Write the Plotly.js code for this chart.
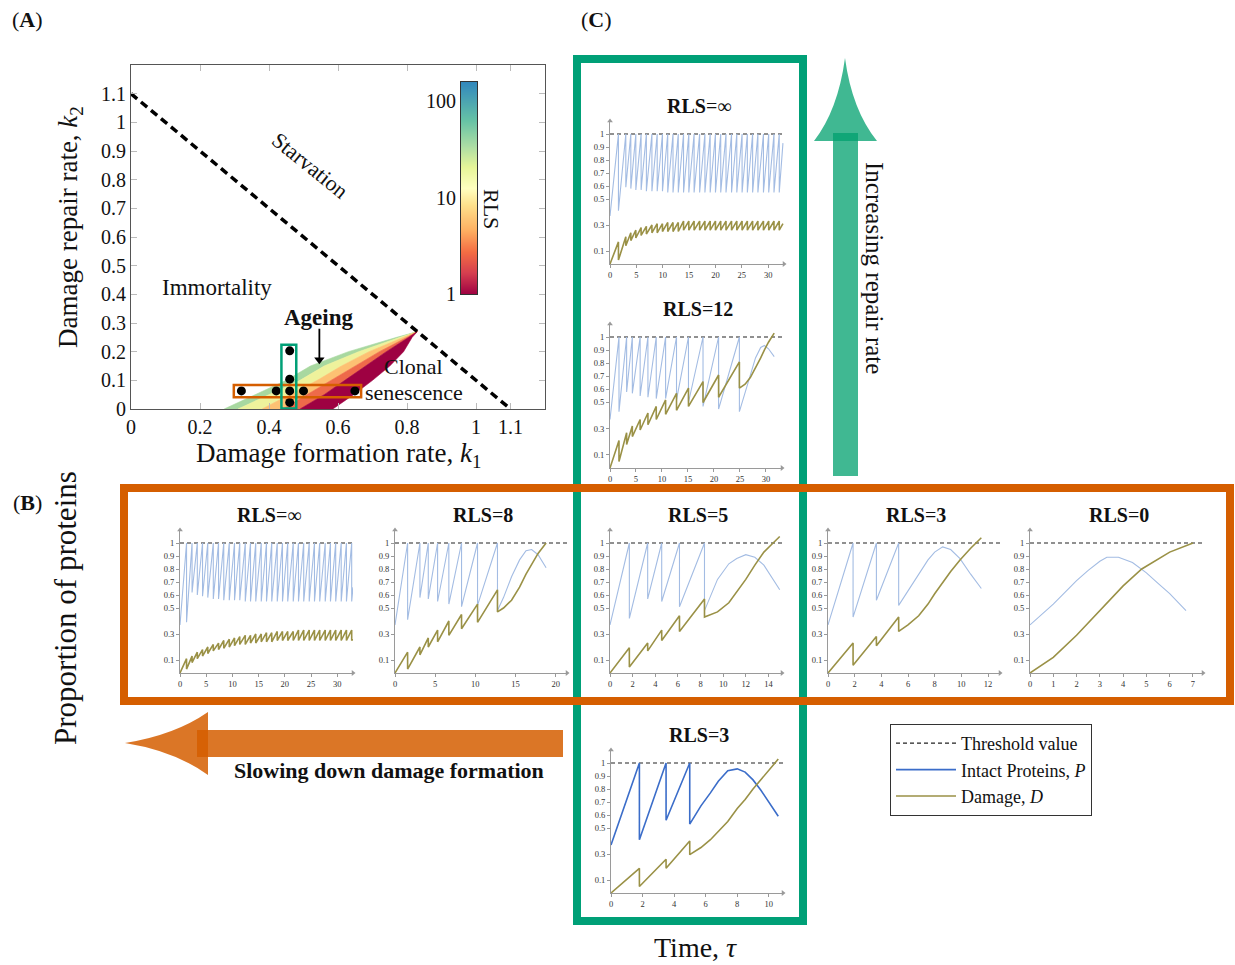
<!DOCTYPE html>
<html><head><meta charset="utf-8">
<script src="https://cdn.plot.ly/plotly-3.0.1.min.js"></script>
<style>html,body{margin:0;padding:0;background:#fff;}#chart{width:1235px;height:965px;}</style>
</head><body><div id="chart"></div>
<script>
// ================= DATA =================
// Panel A: RLS region bands (k1 values of band edges at each k2 level)
const k2Levels  = [0, 0.05, 0.10, 0.15, 0.20, 0.25, 0.27];
const bandEdge0 = [0.27, 0.36, 0.45, 0.52, 0.63, 0.77, 0.83];
const bandEdge1 = [0.31, 0.40, 0.49, 0.56, 0.66, 0.78, 0.83];
const bandEdge2 = [0.38, 0.46, 0.54, 0.61, 0.69, 0.79, 0.83];
const bandEdge3 = [0.44, 0.51, 0.58, 0.65, 0.72, 0.80, 0.83];
const bandEdge4 = [0.49, 0.56, 0.62, 0.68, 0.74, 0.805, 0.83];
const bandEdge5 = [0.585, 0.645, 0.70, 0.75, 0.79, 0.815, 0.83];
const bandColors = ['#a8d8a0', '#eef29c', '#fdc173', '#ee6a4a', '#9e0142'];
const starveK1 = [0, 1.1];
const starveK2 = [1.1, 0];
const dotK1 = [0.32, 0.421, 0.46, 0.50, 0.649, 0.46, 0.46, 0.46];
const dotK2 = [0.063, 0.063, 0.063, 0.063, 0.063, 0.203, 0.104, 0.023];
const axTicksK1 = [0, 0.2, 0.4, 0.6, 0.8, 1, 1.1];
const axTicksK2 = [0, 0.1, 0.2, 0.3, 0.4, 0.5, 0.6, 0.7, 0.8, 0.9, 1, 1.1];
const cbarLogRLS = [0, 2.2];
const cbarTickVals = [0, 1, 2];
const cbarTickText = ['1', '10', '100'];
const ageingArrowK1 = [0.546, 0.546];
const ageingArrowK2 = [0.28, 0.172];

// Time courses (P = intact proteins, D = damage); divisions at divT
const p0 = 0.37, d0 = 0;
const cTopDivT  = [1.6, 3.0, 3.95, 4.9, 5.9, 6.9, 7.95, 8.95, 9.95, 10.95, 11.95, 12.95, 13.95, 14.95, 15.95, 17.0, 18.0, 19.0, 20.0, 21.0, 22.0, 23.05, 24.05, 25.05, 26.05, 27.05, 28.05, 29.1, 30.1, 31.1, 32.1];
const cTopPLow  = [0.41, 0.59, 0.58, 0.57, 0.57, 0.56, 0.56, 0.56, 0.56, 0.55, 0.55, 0.55, 0.55, 0.55, 0.55, 0.55, 0.55, 0.55, 0.55, 0.55, 0.55, 0.55, 0.55, 0.55, 0.55, 0.55, 0.55, 0.55, 0.55, 0.55, 0.55];
const cTopDHigh = [0.17, 0.21, 0.24, 0.26, 0.28, 0.29, 0.30, 0.31, 0.31, 0.32, 0.32, 0.32, 0.33, 0.33, 0.33, 0.33, 0.33, 0.33, 0.33, 0.33, 0.33, 0.33, 0.33, 0.33, 0.33, 0.33, 0.33, 0.33, 0.33, 0.33, 0.33];
const cTopDLow  = [0.03, 0.14, 0.18, 0.20, 0.22, 0.23, 0.24, 0.24, 0.25, 0.25, 0.25, 0.25, 0.26, 0.26, 0.26, 0.26, 0.26, 0.26, 0.26, 0.26, 0.26, 0.26, 0.26, 0.26, 0.26, 0.26, 0.26, 0.26, 0.26, 0.26, 0.26];
const cTopTailT = [32.8], cTopTailP = [0.93], cTopTailD = [0.31];

const cMidDivT  = [1.73, 3.2, 4.3, 5.8, 7.3, 8.9, 10.7, 12.8, 15.1, 17.9, 20.9, 24.9];
const cMidPLow  = [0.43, 0.58, 0.57, 0.55, 0.54, 0.53, 0.53, 0.52, 0.50, 0.47, 0.45, 0.43];
const cMidDHigh = [0.21, 0.27, 0.32, 0.37, 0.42, 0.47, 0.52, 0.57, 0.61, 0.66, 0.71, 0.81];
const cMidDLow  = [0.05, 0.18, 0.24, 0.29, 0.33, 0.37, 0.41, 0.44, 0.47, 0.50, 0.54, 0.61];
const cMidTailT = [26, 27, 28, 29, 29.7, 30.5, 31.6];
const cMidTailP = [0.58, 0.72, 0.84, 0.92, 0.935, 0.91, 0.85];
const cMidTailD = [0.64, 0.69, 0.76, 0.84, 0.90, 0.96, 1.03];

const bInfDivT  = [1.25, 2.3, 3.3, 4.3, 5.3, 6.35, 7.35, 8.35, 9.4, 10.4, 11.4, 12.45, 13.45, 14.45, 15.5, 16.5, 17.5, 18.55, 19.55, 20.55, 21.6, 22.6, 23.6, 24.65, 25.65, 26.65, 27.7, 28.7, 29.7, 30.75, 31.75, 32.75];
const bInfPLow  = [0.39, 0.62, 0.60, 0.59, 0.58, 0.57, 0.57, 0.56, 0.56, 0.56, 0.56, 0.55, 0.55, 0.55, 0.55, 0.55, 0.55, 0.55, 0.55, 0.55, 0.55, 0.55, 0.55, 0.55, 0.55, 0.55, 0.55, 0.55, 0.55, 0.55, 0.55, 0.55];
const bInfDHigh = [0.11, 0.13, 0.16, 0.18, 0.20, 0.22, 0.23, 0.25, 0.26, 0.27, 0.28, 0.29, 0.29, 0.30, 0.30, 0.31, 0.31, 0.32, 0.32, 0.32, 0.32, 0.33, 0.33, 0.33, 0.33, 0.33, 0.33, 0.33, 0.33, 0.33, 0.33, 0.33];
const bInfDLow  = [0.03, 0.08, 0.11, 0.13, 0.15, 0.17, 0.18, 0.19, 0.20, 0.21, 0.22, 0.22, 0.23, 0.23, 0.24, 0.24, 0.24, 0.25, 0.25, 0.25, 0.25, 0.25, 0.25, 0.25, 0.25, 0.25, 0.25, 0.25, 0.25, 0.25, 0.25, 0.25];
const bInfTailT = [33.0], bInfTailP = [0.66], bInfTailD = [0.26];

const b8DivT  = [1.57, 3.1, 4.14, 5.3, 6.7, 8.28, 10.27, 12.75];
const b8PLow  = [0.41, 0.58, 0.57, 0.55, 0.53, 0.51, 0.52, 0.48];
const b8DHigh = [0.16, 0.20, 0.27, 0.33, 0.40, 0.45, 0.53, 0.64];
const b8DLow  = [0.03, 0.14, 0.20, 0.24, 0.29, 0.34, 0.39, 0.47];
const b8TailT = [13.5, 14.5, 15.5, 16.3, 17.0, 17.8, 18.8];
const b8TailP = [0.58, 0.74, 0.87, 0.94, 0.95, 0.91, 0.81];
const b8TailD = [0.50, 0.56, 0.66, 0.76, 0.84, 0.92, 1.00];

const b5DivT  = [1.71, 3.33, 4.57, 6.14, 8.35];
const b5PLow  = [0.42, 0.57, 0.55, 0.51, 0.48];
const b5DHigh = [0.195, 0.23, 0.33, 0.44, 0.57];
const b5DLow  = [0.046, 0.17, 0.25, 0.32, 0.43];
const b5TailT = [9.5, 10.5, 11.2, 12.0, 12.8, 13.6, 14.3, 15.0];
const b5TailP = [0.72, 0.84, 0.88, 0.91, 0.89, 0.83, 0.74, 0.64];
const b5TailD = [0.47, 0.54, 0.62, 0.72, 0.83, 0.93, 0.99, 1.05];

const b3DivT  = [1.88, 3.63, 5.3];
const b3PLow  = [0.43, 0.56, 0.52];
const b3DHigh = [0.23, 0.28, 0.43];
const b3DLow  = [0.06, 0.21, 0.32];
const b3TailT = [6.0, 6.8, 7.5, 8.0, 8.6, 9.2, 9.9, 10.7, 11.5];
const b3TailP = [0.63, 0.76, 0.87, 0.93, 0.97, 0.95, 0.88, 0.76, 0.65];
const b3TailD = [0.37, 0.44, 0.53, 0.61, 0.70, 0.78, 0.87, 0.96, 1.04];

const b0TimeP = [0.5, 1, 1.5, 2, 2.5, 3, 3.3, 3.8, 4.4, 5, 5.5, 6, 6.7];
const b0P     = [0.45, 0.53, 0.62, 0.71, 0.79, 0.86, 0.89, 0.89, 0.85, 0.77, 0.69, 0.61, 0.48];
const b0TimeD = [1, 2, 3, 4, 4.8, 6, 7];
const b0D     = [0.12, 0.29, 0.48, 0.67, 0.80, 0.93, 1.00];

const cBotDivT  = [1.8, 3.49, 4.99];
const cBotPLow  = [0.41, 0.56, 0.53];
const cBotDHigh = [0.19, 0.26, 0.40];
const cBotDLow  = [0.05, 0.19, 0.295];
const cBotTailT = [5.7, 6.3, 6.8, 7.4, 8.0, 8.5, 9.0, 9.5, 10.0, 10.6];
const cBotTailP = [0.67, 0.77, 0.86, 0.94, 0.955, 0.93, 0.87, 0.79, 0.70, 0.59];
const cBotTailD = [0.35, 0.41, 0.47, 0.55, 0.65, 0.72, 0.80, 0.87, 0.94, 1.03];

const yTickVals = [0.1, 0.3, 0.5, 0.6, 0.7, 0.8, 0.9, 1];
const threshold = 1;

// ================= BUILD =================
const W = 1235, H = 965;
const dx = px => px / W;
const dy = py => 1 - py / H;
const SERIF = '"Liberation Serif", "Times New Roman", serif';

function saw(divT, pLow, dHigh, dLow, tTP, tP, tTD, tD) {
  const tp = [0], P = [p0], td = [0], D = [d0];
  for (let i = 0; i < divT.length; i++) {
    tp.push(divT[i], divT[i]); P.push(threshold, pLow[i]);
    td.push(divT[i], divT[i]); D.push(dHigh[i], dLow[i]);
  }
  return {tp: tp.concat(tTP), P: P.concat(tP), td: td.concat(tTD), D: D.concat(tD)};
}

const LIGHT = '#a3bce3', DARK = '#3b6dc9', OLIVE = '#9a9146';
const panels = [
  {title:'<b>RLS</b>=∞', l:610, r:784, b:264, unit:130, xmax:33, xt:[0,5,10,15,20,25,30], s:saw(cTopDivT,cTopPLow,cTopDHigh,cTopDLow,cTopTailT,cTopTailP,cTopTailT,cTopTailD), pc:LIGHT},
  {title:'<b>RLS</b>=<b>12</b>', l:610, r:782, b:468, unit:131, xmax:33.1, xt:[0,5,10,15,20,25,30], s:saw(cMidDivT,cMidPLow,cMidDHigh,cMidDLow,cMidTailT,cMidTailP,cMidTailT,cMidTailD), pc:LIGHT},
  {title:'<b>RLS</b>=∞', l:180, r:353, b:673, unit:130, xmax:33, xt:[0,5,10,15,20,25,30], s:saw(bInfDivT,bInfPLow,bInfDHigh,bInfDLow,bInfTailT,bInfTailP,bInfTailT,bInfTailD), pc:LIGHT},
  {title:'<b>RLS</b>=<b>8</b>', l:395, r:567, b:673, unit:130, xmax:21.4, xt:[0,5,10,15,20], s:saw(b8DivT,b8PLow,b8DHigh,b8DLow,b8TailT,b8TailP,b8TailT,b8TailD), pc:LIGHT},
  {title:'<b>RLS</b>=<b>5</b>', l:610, r:782, b:673, unit:130, xmax:15.2, xt:[0,2,4,6,8,10,12,14], s:saw(b5DivT,b5PLow,b5DHigh,b5DLow,b5TailT,b5TailP,b5TailT,b5TailD), pc:LIGHT},
  {title:'<b>RLS</b>=<b>3</b>', l:828, r:1000, b:673, unit:130, xmax:12.9, xt:[0,2,4,6,8,10,12], s:saw(b3DivT,b3PLow,b3DHigh,b3DLow,b3TailT,b3TailP,b3TailT,b3TailD), pc:LIGHT},
  {title:'<b>RLS</b>=<b>0</b>', l:1030, r:1203, b:673, unit:130, xmax:7.43, xt:[0,1,2,3,4,5,6,7], s:saw([],[],[],[],b0TimeP,b0P,b0TimeD,b0D), pc:LIGHT},
  {title:'<b>RLS</b>=<b>3</b>', l:611, r:783, b:893, unit:130, xmax:10.9, xt:[0,2,4,6,8,10], s:saw(cBotDivT,cBotPLow,cBotDHigh,cBotDLow,cBotTailT,cBotTailP,cBotTailT,cBotTailD), pc:DARK, legend:true}
];

const traces = [];
const layout = {
  width: W, height: H, margin: {l:0, r:0, t:0, b:0},
  paper_bgcolor: '#fff', plot_bgcolor: 'rgba(0,0,0,0)',
  font: {family: SERIF, color: '#111'},
  showlegend: true,
  legend: {x: dx(890), y: dy(724), xanchor: 'left', yanchor: 'top', bgcolor: '#fff',
           bordercolor: '#333', borderwidth: 1, font: {family: SERIF, size: 18, color: '#111'},
           tracegroupgap: 0, itemwidth: 60},
  annotations: [], shapes: []
};

// ---- Panel A ----
const edges = [bandEdge0, bandEdge1, bandEdge2, bandEdge3, bandEdge4, bandEdge5];
for (let i = 0; i < 5; i++) {
  traces.push({type:'scatter', mode:'lines', xaxis:'x', yaxis:'y',
    x: edges[i].concat(edges[i+1].slice().reverse()),
    y: k2Levels.concat(k2Levels.slice().reverse()),
    fill:'toself', fillcolor: bandColors[i], line:{width:0.6, color: bandColors[i]}, showlegend:false, hoverinfo:'skip'});
}
traces.push({type:'scatter', mode:'lines', x: starveK1, y: starveK2, xaxis:'x', yaxis:'y',
  line:{color:'#000', width:3.5, dash:'8px,5px'}, showlegend:false});
traces.push({type:'scatter', mode:'markers', x: dotK1, y: dotK2, xaxis:'x', yaxis:'y',
  marker:{color:'#000', size:9}, showlegend:false});
// "Ageing" arrow
traces.push({type:'scatter', mode:'lines', x: ageingArrowK1, y: ageingArrowK2, xaxis:'x', yaxis:'y',
  line:{color:'#000', width:1.8}, showlegend:false});
traces.push({type:'scatter', mode:'markers', x: [ageingArrowK1[1]], y: [ageingArrowK2[1]], xaxis:'x', yaxis:'y',
  marker:{color:'#000', size:9, symbol:'triangle-down'}, showlegend:false});

layout.xaxis = {domain:[dx(131), dx(545)], anchor:'y', range:[0,1.2], tickvals: axTicksK1,
  ticktext: axTicksK1.map(String), ticks:'inside', ticklen:6, tickcolor:'#bbb', showline:true, linecolor:'#555',
  linewidth:1, mirror:'ticks', showgrid:false, zeroline:false, tickfont:{size:20, family:SERIF}};
layout.yaxis = {domain:[dy(409), dy(65)], anchor:'x', range:[0,1.2], tickvals: axTicksK2,
  ticktext: axTicksK2.map(String), ticks:'inside', ticklen:6, tickcolor:'#bbb', showline:true, linecolor:'#555',
  linewidth:1, mirror:'ticks', showgrid:false, zeroline:false, tickfont:{size:20, family:SERIF}};

layout.shapes.push({type:'rect', xref:'x', yref:'y', x0:0.298, x1:0.667, y0:0.041, y1:0.084, line:{color:'#d55e00', width:2.5}});
layout.shapes.push({type:'rect', xref:'x', yref:'y', x0:0.436, x1:0.479, y0:0.002, y1:0.224, line:{color:'#00a077', width:2.5}});

// colour bar as its own small axis
traces.push({type:'heatmap', xaxis:'x2', yaxis:'y2', x:[0,1], y: cbarLogRLS,
  z:[[cbarLogRLS[0], cbarLogRLS[0]],[cbarLogRLS[1], cbarLogRLS[1]]], zmin:0, zmax:2.2, zsmooth:'best', showscale:false, hoverinfo:'skip',
  colorscale:[[0,'#9e0142'],[0.1,'#d53e4f'],[0.2,'#f46d43'],[0.3,'#fdae61'],[0.42,'#fee08b'],[0.5,'#ffffbf'],[0.6,'#e6f598'],[0.7,'#abdda4'],[0.82,'#66c2a5'],[1,'#3288bd']]});
layout.xaxis2 = {domain:[dx(461), dx(477)], anchor:'y2', range:[0,1], showticklabels:false, ticks:'',
  showline:true, mirror:true, linecolor:'#333', showgrid:false, zeroline:false};
layout.yaxis2 = {domain:[dy(294), dy(82)], anchor:'x2', range:[0,2.2], tickvals:cbarTickVals, ticktext:cbarTickText,
  ticks:'', showline:true, mirror:true, linecolor:'#333', showgrid:false, zeroline:false, tickfont:{size:20, family:SERIF}};

// ---- small panels ----
panels.forEach((p, i) => {
  const n = i + 3;
  const xa = 'x' + n, ya = 'y' + n;
  const top = p.b - 1.1 * p.unit;
  layout['xaxis' + n] = {domain:[dx(p.l), dx(p.r)], anchor: ya, range:[0, p.xmax], tickvals:p.xt,
    ticks:'outside', ticklen:3, tickcolor:'#999', showline:true, linecolor:'#9a9a9a', linewidth:1,
    showgrid:false, zeroline:false, tickfont:{size:8.5, family:SERIF, color:'#333'}};
  layout['yaxis' + n] = {domain:[dy(p.b), dy(top)], anchor: xa, range:[0, 1.1], tickvals:yTickVals,
    ticktext: yTickVals.map(String), ticks:'outside', ticklen:3, tickcolor:'#999', showline:true, linecolor:'#9a9a9a',
    linewidth:1, showgrid:false, zeroline:false, tickfont:{size:8.5, family:SERIF, color:'#333'}};
  traces.push({type:'scatter', mode:'lines', xaxis:xa, yaxis:ya, x:[0, p.xmax], y:[threshold, threshold],
    line:{color:'#222', width:1.2, dash:'4px,3px'}, name:'Threshold value', showlegend: !!p.legend, legendrank:1});
  traces.push({type:'scatter', mode:'lines', xaxis:xa, yaxis:ya, x:p.s.tp, y:p.s.P,
    line:{color:p.pc, width: p.pc === DARK ? 1.6 : 1.1}, name:'Intact Proteins, <i>P</i>', showlegend: !!p.legend, legendrank:2});
  traces.push({type:'scatter', mode:'lines', xaxis:xa, yaxis:ya, x:p.s.td, y:p.s.D,
    line:{color:OLIVE, width:1.6}, name:'Damage, <i>D</i>', showlegend: !!p.legend, legendrank:3});
  // arrow tips at the axis ends
  traces.push({type:'scatter', mode:'markers', xaxis:xa, yaxis:ya, x:[p.xmax, 0], y:[0, 1.1],
    marker:{symbol:['triangle-right','triangle-up'], size:5, color:'#9a9a9a'}, cliponaxis:false, showlegend:false, hoverinfo:'skip'});
  layout.annotations.push({xref:'paper', yref:'paper', x:dx((p.l + p.r) / 2 + 2), y:dy(top - 15),
    text:p.title, showarrow:false, font:{family:SERIF, size:20, color:'#111'}, xanchor:'center', yanchor:'middle'});
});

// ---- big boxes and arrows ----
const pt = (x, y) => dx(x).toFixed(5) + ',' + dy(y).toFixed(5);
layout.shapes.push({type:'rect', xref:'paper', yref:'paper', x0:dx(577), x1:dx(803), y0:dy(921), y1:dy(59),
  line:{color:'#00a077', width:8}, layer:'below'});
layout.shapes.push({type:'rect', xref:'paper', yref:'paper', x0:dx(124), x1:dx(1230), y0:dy(701), y1:dy(488),
  line:{color:'#d55e00', width:8}, layer:'below'});
// green up arrow
layout.shapes.push({type:'rect', xref:'paper', yref:'paper', x0:dx(833), x1:dx(858), y0:dy(476), y1:dy(133),
  fillcolor:'rgb(0,160,110)', opacity:0.75, line:{width:0}});
layout.shapes.push({type:'path', xref:'paper', yref:'paper',
  path:'M' + pt(814,141) + ' Q' + pt(838,110) + ' ' + pt(845,58) + ' Q' + pt(852,110) + ' ' + pt(877,141) + ' Z',
  fillcolor:'rgb(0,160,110)', opacity:0.75, line:{width:0}});
// orange left arrow
layout.shapes.push({type:'rect', xref:'paper', yref:'paper', x0:dx(197), x1:dx(563), y0:dy(757), y1:dy(730),
  fillcolor:'rgb(213,94,0)', opacity:0.85, line:{width:0}});
layout.shapes.push({type:'path', xref:'paper', yref:'paper',
  path:'M' + pt(208,712) + ' Q' + pt(175,735) + ' ' + pt(125,743) + ' Q' + pt(175,751) + ' ' + pt(208,775) + ' Z',
  fillcolor:'rgb(213,94,0)', opacity:0.85, line:{width:0}});

// ---- text annotations ----
const A = (x, y, text, size, extra) => Object.assign({xref:'paper', yref:'paper', x:dx(x), y:dy(y), text,
  showarrow:false, font:{family:SERIF, size, color:'#111'}, xanchor:'center', yanchor:'middle'}, extra || {});
layout.annotations.push(
  A(27, 20, '(<b>A</b>)', 22),
  A(27, 502, '(<b>B</b>)', 22),
  A(596, 20, '(<b>C</b>)', 22),
  A(338, 455, 'Damage formation rate, <i>k</i><sub>1</sub>', 27),
  A(70, 227, 'Damage repair rate, <i>k</i><sub>2</sub>', 27, {textangle:-90}),
  A(492, 209, 'RLS', 22, {textangle:90}),
  A(65, 608, 'Proportion of proteins', 31, {textangle:-90}),
  A(695, 947, 'Time, <i>τ</i>', 28),
  A(875, 268, 'Increasing repair rate', 25, {textangle:90}),
  A(389, 770, '<b>Slowing down damage formation</b>', 22)
);
layout.annotations.push(
  {xref:'x', yref:'y', x:0.52, y:0.85, text:'Starvation', showarrow:false, textangle:39, font:{family:SERIF, size:22, color:'#111'}},
  {xref:'x', yref:'y', x:0.25, y:0.425, text:'Immortality', showarrow:false, font:{family:SERIF, size:23, color:'#111'}},
  {xref:'x', yref:'y', x:0.546, y:0.32, text:'<b>Ageing</b>', showarrow:false, font:{family:SERIF, size:23, color:'#111'}},
  {xref:'x', yref:'y', x:0.82, y:0.148, text:'Clonal', showarrow:false, font:{family:SERIF, size:22, color:'#111'}},
  {xref:'x', yref:'y', x:0.82, y:0.058, text:'senescence', showarrow:false, font:{family:SERIF, size:22, color:'#111'}}
);

Plotly.newPlot('chart', traces, layout, {staticPlot:true, displayModeBar:false});
</script>
</body></html>
